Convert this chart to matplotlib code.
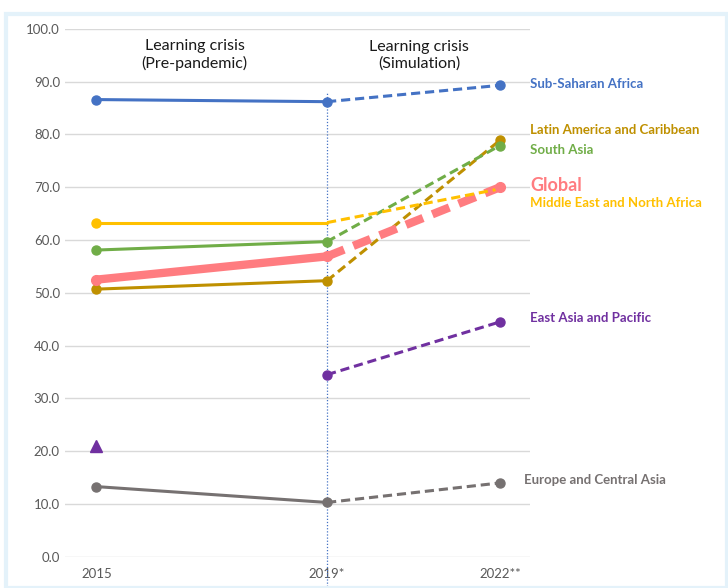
import matplotlib.pyplot as plt
from matplotlib.patches import Rectangle

plt.rcParams['font.family'] = ['Lato', 'DejaVu Sans']

anos = [2015, 2019, 2022]
rotulos_x = ['2015', '2019*', '2022**']

regioes = ['Sub-Saharan Africa', 'Latin America and Caribbean', 'South Asia', 'Global',
           'Middle East and North Africa', 'East Asia and Pacific', 'Europe and Central Asia']
v2015 = [86.6, 50.7, 58.1, 52.5, 63.3, None, 13.3]
v2019 = [86.2, 52.3, 59.7, 56.9, 63.3, 34.5, 10.3]
v2022 = [89.3, 78.9, 77.9, 70.0, 69.7, 44.5, 14.0]
leste_asia_2015 = 21.0  # triangulo

cores = ['#4472C4', '#BF9000', '#70AD47', '#FF7C80', '#FFC000', '#7030A0', '#767171']
label_y = [89.6, 80.8, 77.0, 70.3, 67.1, 45.3, 14.6]

fig = plt.figure(figsize=(7.28, 5.88), dpi=100)
fig.patches.append(Rectangle((0.008, 0.0), 0.99, 0.977, transform=fig.transFigure,
                             fill=False, edgecolor='#E4F2FA', lw=3))
ax = fig.add_axes([0.089, 0.053, 0.639, 0.898])

for i, nome in enumerate(regioes):
    lw = 6 if nome == 'Global' else 2.2
    ms = 6.5 if nome != 'Global' else 7
    cor = cores[i]
    if v2015[i] is not None:
        ax.plot(anos[:2], [v2015[i], v2019[i]], '-', color=cor, lw=lw, solid_capstyle='round', zorder=3)
        ax.plot(anos[0], v2015[i], 'o', color=cor, ms=ms, zorder=4)
    ax.plot(anos[1:], [v2019[i], v2022[i]], '--', color=cor, lw=lw,
            dashes=(3, 1.6) if nome != 'Global' else (2.2, 1.2), zorder=3)
    if nome != 'Middle East and North Africa':
        ax.plot(anos[1:], [v2019[i], v2022[i]], 'o', color=cor, ms=ms, zorder=4)
    fs = 13 if nome == 'Global' else 9.5
    ax.text(2022.52 if nome != 'Europe and Central Asia' else 2022.42, label_y[i], nome,
            color=cor, fontsize=fs, fontweight='bold', va='center', ha='left', clip_on=False)

ax.plot(anos[0], leste_asia_2015, '^', color='#7030A0', ms=8, zorder=4)

ax.axvline(2019, ymin=0, ymax=0.88, color='#4472C4', ls=(0, (1, 1.5)), lw=0.9, zorder=2)
ax.plot([2019, 2019], [0, -6], color='#4472C4', ls=(0, (1, 1.5)), lw=0.9, clip_on=False)

ax.text(2016.7, 95, 'Learning crisis\n(Pre-pandemic)', ha='center', va='center', fontsize=11.5,
        color='#1a1a1a', linespacing=1.25)
ax.text(2020.6, 95, 'Learning crisis\n(Simulation)', ha='center', va='center', fontsize=11.5,
        color='#1a1a1a', linespacing=1.25)

ax.set_xlim(2014.45, 2022.52)
ax.set_ylim(0, 100)
ax.set_yticks(range(0, 101, 10))
ax.set_yticklabels([f'{v:.1f}' for v in range(0, 101, 10)])
ax.set_xticks(anos)
ax.set_xticklabels(rotulos_x)
ax.tick_params(length=0, labelsize=9.5, colors='#595959')
ax.tick_params(axis='x', pad=8)
ax.grid(axis='y', color='#D9D9D9', lw=1)
ax.set_axisbelow(True)
for s in ax.spines.values():
    s.set_visible(False)

plt.savefig('out.png', dpi=100)
